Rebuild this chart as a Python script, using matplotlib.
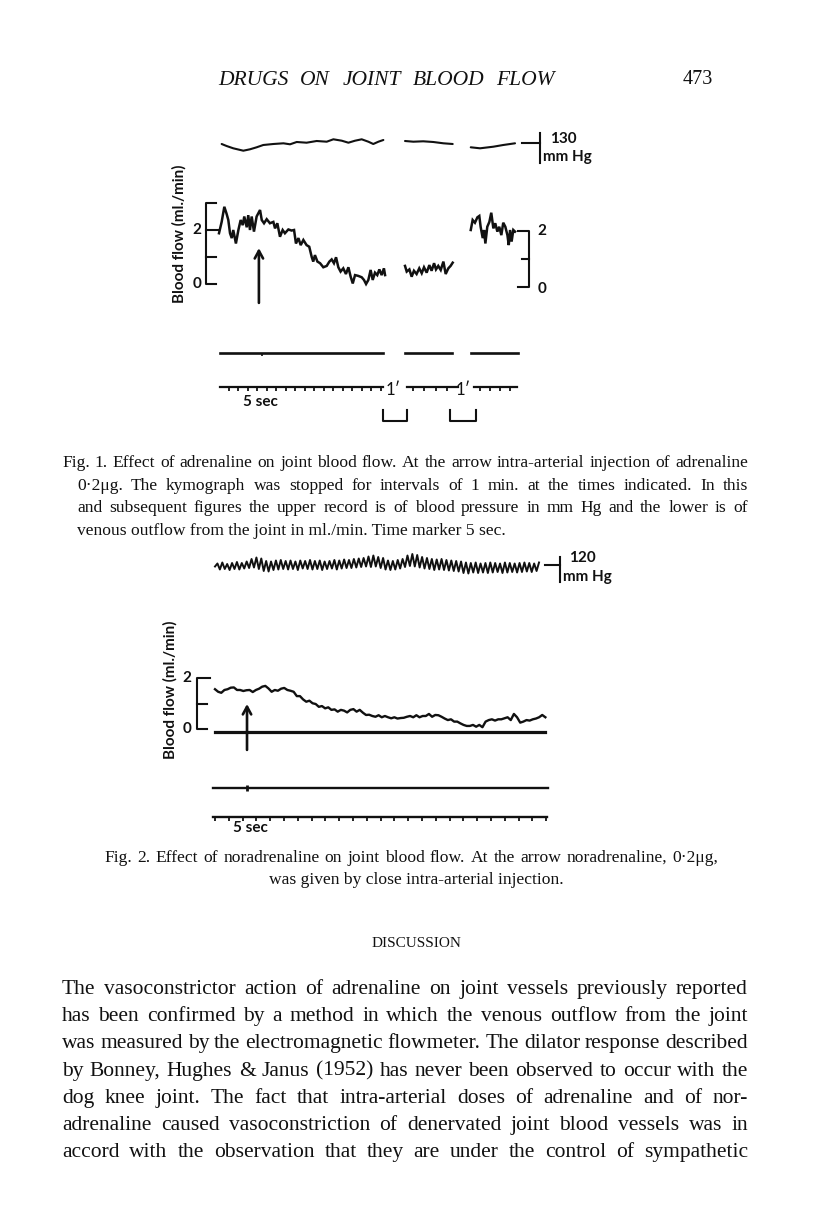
import numpy as np
import matplotlib
matplotlib.use('Agg')
import matplotlib.pyplot as plt

W, H = 816, 1208
INK = '#111111'
SERIF = ['Liberation Serif', 'DejaVu Serif']
SANS = ['Lato', 'DejaVu Sans']

# ---------------- Fig. 1 (adrenaline) ----------------
# time in s along the kymograph record; drum stopped for 1 min between segments
f1_bp_t1 = [1.4, 4.0, 7.5, 12.8, 16.3, 19.8, 23.3, 28.6, 33.9, 37.4, 40.9, 46.1,
            51.4, 56.7, 60.2, 64.6, 68.1, 71.6, 75.1, 78.6, 81.2, 83.9, 86.5]
f1_bp_v1 = [129, 127, 124.7, 122.3, 123.7, 125.7, 128, 129, 129.7, 128.7, 131, 130.3,
            132, 131.3, 133.7, 132.3, 130.3, 132.3, 133.7, 131.3, 129, 131.3, 133]
f1_bp_t2 = [97.9, 102.3, 107.5, 112.8, 118.1, 123.0]
f1_bp_v2 = [132, 131.3, 131.7, 131, 129.7, 129]
f1_bp_t3 = [132.5, 137.4, 144.4, 149.6, 155.8]
f1_bp_v3 = [125.7, 124.7, 126.3, 128, 129.7]

f1_flow_t1 = [0, 1.4, 2.8, 4.0, 4.9, 5.8, 6.7, 7.5, 8.9, 10.2, 11.4, 12.5, 13.3, 14.6,
              15.4, 16.3, 17.2, 18.4, 19.8, 21.6, 22.5, 23.7, 25.1, 26.8, 28.6, 29.5,
              30.7, 32.1, 33.5, 34.7, 36.5, 38.2, 39.5, 40.5, 41.8, 43.0, 44.4, 46.1,
              47.5, 48.8, 49.6, 50.5, 51.8, 53.2, 54.9, 56.7, 58.1, 59.3, 60.5, 61.6,
              62.8, 64.0, 65.4, 66.8, 68.1, 69.3, 70.4, 71.6, 73.3, 75.1, 76.3, 77.4,
              78.6, 79.8, 80.9, 82.1, 83.3, 84.4, 85.6, 86.8, 87.4]
f1_flow_v1 = [1.88, 2.3, 2.86, 2.6, 2.37, 1.88, 1.7, 2.0, 1.5, 2.0, 2.37, 2.18, 2.5, 2.1,
              2.55, 2.0, 2.5, 1.94, 2.5, 2.74, 2.37, 2.25, 2.4, 2.25, 2.3, 2.06,
              2.25, 1.75, 2.0, 1.88, 2.02, 1.98, 2.0, 1.5, 1.7, 1.44, 1.63, 1.44,
              1.38, 1.0, 0.83, 1.07, 0.83, 0.77, 0.62, 0.67, 0.83, 0.91, 0.77, 0.99,
              0.62, 0.46, 0.58, 0.37, 0.62, 0.27, 0.02, 0.33, 0.3, 0.25, 0.15, 0.0,
              0.15, 0.52, 0.15, 0.42, 0.33, 0.54, 0.33, 0.58, 0.33]
f1_flow_t2 = [97.9, 98.8, 100.2, 101.4, 102.6, 104.0, 105.4, 106.7, 107.9, 109.3, 110.7,
              111.9, 113.2, 114.2, 115.4, 116.7, 118.1, 119.3, 120.7, 121.9, 123.0]
f1_flow_v2 = [0.67, 0.46, 0.54, 0.27, 0.49, 0.37, 0.58, 0.4, 0.62, 0.42, 0.7,
              0.49, 0.77, 0.54, 0.67, 0.52, 0.83, 0.37, 0.58, 0.67, 0.79]
f1_flow_t3 = [132.5, 133.5, 134.7, 136.0, 137.0, 137.7, 138.8, 139.5, 140.2, 141.2,
              142.3, 143.3, 144.4, 145.4, 146.5, 147.5, 148.6, 149.6, 150.7, 151.8,
              152.5, 153.2, 154.0, 154.9, 155.8]
f1_flow_v3 = [2.0, 2.37, 2.27, 2.47, 2.52, 2.12, 1.7, 2.0, 1.5, 2.12,
              2.3, 2.64, 2.06, 2.25, 1.94, 2.12, 1.81, 2.27, 2.12, 1.81,
              1.44, 2.0, 1.57, 2.0, 1.94]

f1_injection = 21.0
f1_event_segments = [(0.5, 86.3), (97.9, 122.6), (132.6, 157.4)]
f1_time_segments = [(0.5, 86.3), (99.0, 125.8), (134.2, 156.8)]
f1_time_ticks = [5, 10, 15, 20, 25, 30, 35, 40, 45, 50, 55, 60, 65, 70, 75, 80, 85,
                 102, 108, 114, 120, 137.5, 142.5, 148, 153]
f1_stops = [(86.3, 98.9), (121.6, 135.3)]
f1_stop_labels = [91.6, 128.4]

# ---------------- Fig. 2 (noradrenaline) ----------------
# blood pressure pulse: successive troughs and peaks (mm Hg)
f2_bp_troughs = [118.5, 115.5, 116.0, 115.0, 116.0, 115.5, 116.5,
                 117.0, 117.5, 116.0, 114.0, 113.5, 115.0, 115.5,
                 116.0, 115.5, 116.0, 115.0, 116.5, 116.0, 115.5, 116.0, 115.0, 116.0,
                 116.5, 115.5, 116.5, 117.0, 117.0, 117.5, 118.0,
                 118.5, 118.0, 118.5, 117.0,
                 115.5, 115.0, 115.5, 116.5,
                 118.0, 119.0, 118.5, 117.5,
                 116.5, 116.0, 115.0, 115.5, 115.0, 114.5, 114.0, 113.5,
                 112.0, 111.5, 112.5, 112.0, 112.5, 112.0, 112.5, 113.0, 112.0, 112.5,
                 113.0, 112.5, 113.0, 113.5, 113.0, 114.0]
f2_bp_peaks = [121.5, 122.5, 121.0, 122.0, 123.0, 122.0, 123.5,
               126.0, 127.5, 126.5, 124.0, 123.5, 124.5, 125.0,
               124.0, 124.5, 123.5, 124.5, 124.0, 125.0, 124.0, 124.5, 123.5, 124.0,
               125.0, 124.5, 125.5, 125.0, 126.0, 126.5, 127.0,
               128.5, 129.5, 128.0, 127.0,
               124.5, 124.0, 125.0, 126.0,
               129.5, 131.0, 130.0, 128.0,
               127.0, 126.0, 125.5, 126.0, 125.0, 124.5, 124.0, 123.5,
               122.5, 122.0, 122.5, 121.5, 122.0, 122.5, 122.0, 121.5, 122.5, 122.0,
               121.5, 122.0, 122.5, 122.0, 121.5, 122.5]
f2_bp_span = (0.0, 117.4)

f2_flow_dt = 1.14
f2_flow = [1.56, 1.46, 1.42, 1.53, 1.56, 1.62, 1.63, 1.53, 1.53, 1.49,
           1.52, 1.53, 1.45, 1.53, 1.58, 1.66, 1.69, 1.59, 1.46, 1.53,
           1.50, 1.58, 1.61, 1.53, 1.50, 1.46, 1.29, 1.29, 1.16, 1.07,
           1.11, 1.01, 0.98, 0.87, 0.90, 0.81, 0.85, 0.75, 0.77, 0.68,
           0.75, 0.72, 0.65, 0.75, 0.78, 0.68, 0.75, 0.64, 0.55, 0.56,
           0.51, 0.48, 0.54, 0.46, 0.51, 0.46, 0.42, 0.46, 0.41, 0.43,
           0.44, 0.48, 0.51, 0.46, 0.54, 0.46, 0.51, 0.51, 0.59, 0.48,
           0.55, 0.54, 0.48, 0.41, 0.35, 0.38, 0.29, 0.29, 0.22, 0.16,
           0.12, 0.12, 0.16, 0.09, 0.16, 0.07, 0.29, 0.35, 0.38, 0.33,
           0.38, 0.38, 0.42, 0.46, 0.35, 0.59, 0.46, 0.25, 0.29, 0.35,
           0.33, 0.38, 0.41, 0.46, 0.55, 0.46]
f2_injection = 11.6
f2_event_segment = (-0.7, 120.7)
f2_time_segment = (-0.7, 120.3)
f2_time_ticks = list(range(0, 121, 5))

# ---------------- page text ----------------
header = 'DRUGS ON JOINT BLOOD FLOW'
page_no = '473'
caption1 = ['Fig. 1.  Effect of adrenaline on joint blood flow.  At the arrow intra-arterial injection of adrenaline',
            '0·2μg. The kymograph was stopped for intervals of 1 min. at the times indicated.  In this',
            'and subsequent figures the upper record is of blood pressure in mm Hg and the lower is of',
            'venous outflow from the joint in ml./min. Time marker 5 sec.']
caption2 = ['Fig. 2.  Effect of noradrenaline on joint blood flow.  At the arrow noradrenaline, 0·2μg,',
            'was given by close intra-arterial injection.']
section = 'DISCUSSION'
body = ['The vasoconstrictor action of adrenaline on joint vessels previously reported',
        'has been confirmed by a method in which the venous outflow from the joint',
        'was measured by the electromagnetic flowmeter. The dilator response described',
        'by Bonney, Hughes & Janus (1952) has never been observed to occur with the',
        'dog knee joint. The fact that intra-arterial doses of adrenaline and of nor-',
        'adrenaline caused vasoconstriction of denervated joint blood vessels was in',
        'accord with the observation that they are under the control of sympathetic']

fig = plt.figure(figsize=(W / 100, H / 100), dpi=100)
fig.patch.set_facecolor('white')
renderer = fig.canvas.get_renderer()


def page_axes(x0, y0, x1, y1, t0_px, px_per_s, v_ref, v_ref_px, px_per_v):
    # axes placed on the page; data in seconds and physiological units
    ax = fig.add_axes([x0 / W, 1 - y1 / H, (x1 - x0) / W, (y1 - y0) / H])
    ax.set_xlim((x0 - t0_px) / px_per_s, (x1 - t0_px) / px_per_s)
    ax.set_ylim(v_ref + (v_ref_px - y1) / px_per_v, v_ref + (v_ref_px - y0) / px_per_v)
    ax.set_axis_off()
    ax.patch.set_alpha(0)
    return ax


def text_width(s, size, family, style='normal', weight='normal'):
    t = fig.text(0, 0, s, fontsize=size, family=family, style=style, weight=weight)
    w = t.get_window_extent(renderer=renderer).width
    t.remove()
    return w


def put_line(s, x0, x1, y, size, family, style='normal', justify=True, ha='left'):
    kw = dict(fontsize=size, family=family, style=style, color=INK, va='baseline')
    if not justify:
        fig.text(x0 / W, 1 - y / H, s, ha=ha, **kw)
        return
    words = s.split()
    widths = [text_width(w, size, family, style) for w in words]
    gap = (x1 - x0 - sum(widths)) / (len(words) - 1)
    x = x0
    for w, wd in zip(words, widths):
        fig.text(x / W, 1 - y / H, w, ha='left', **kw)
        x += wd + gap


lab = dict(family=SANS, weight='bold', color=INK)
LS = 11

# header
hsize = 14 * 312 / text_width(header, 14, SERIF, 'italic')
put_line(header, 218, 555, 85, hsize, SERIF, 'italic')
put_line(page_no, 683, 0, 84, 14.5, SERIF, justify=False)

# ---- Fig. 1 ----
ax = page_axes(150, 110, 620, 185, 219, 1.9, 130, 143, 1)
for t, v in [(f1_bp_t1, f1_bp_v1), (f1_bp_t2, f1_bp_v2), (f1_bp_t3, f1_bp_v3)]:
    ax.plot(t, v, color=INK, lw=1.5, solid_capstyle='round')
ax.plot([159.5, 169], [130, 130], color=INK, lw=1.5)
ax.plot([169, 169], [140, 110], color=INK, lw=1.5)
ax.text(174.2, 134, '130', fontsize=LS, va='center', ha='left', **lab)
ax.text(170.5, 116, 'mm Hg', fontsize=LS, va='center', ha='left', **lab)

ax = page_axes(150, 185, 620, 315, 219, 1.9, 0, 284, 27)
for t, v in [(f1_flow_t1, f1_flow_v1), (f1_flow_t2, f1_flow_v2), (f1_flow_t3, f1_flow_v3)]:
    ax.plot(t, v, color=INK, lw=1.8, solid_joinstyle='miter')
ax.plot([-1.5, -6.8, -6.8, -1.5], [3, 3, 0, 0], color=INK, lw=1.5)
ax.plot([-6.8, -0.3], [2, 2], color=INK, lw=1.5)
ax.plot([-6.8, -1.5], [1, 1], color=INK, lw=1.5)
ax.text(-11.6, 2, '2', fontsize=LS, ha='center', va='center', **lab)
ax.text(-11.6, 0, '0', fontsize=LS, ha='center', va='center', **lab)
ax.plot([157.4, 163.2, 163.2, 157.4], [1.96, 1.96, -0.11, -0.11], color=INK, lw=1.5)
ax.plot([159.5, 163.2], [0.93, 0.93], color=INK, lw=1.5)
ax.text(167.5, 1.96, '2', fontsize=LS, ha='left', va='center', **lab)
ax.text(167.5, -0.2, '0', fontsize=LS, ha='left', va='center', **lab)
ax.annotate('', xy=(f1_injection, 1.33), xytext=(f1_injection, -0.70),
            arrowprops=dict(arrowstyle='->,head_length=0.55,head_width=0.3',
                            color=INK, lw=1.9, shrinkA=0, shrinkB=0))
fig.text(179 / W, 1 - 234 / H, 'Blood flow (ml./min)', rotation=90, fontsize=LS,
         ha='center', va='center', **lab)

ax = page_axes(150, 335, 620, 430, 219, 1.9, 0, 353, -34)
for a, b in f1_event_segments:
    ax.plot([a, b], [0, 0], color=INK, lw=1.9)
ax.vlines(f1_injection + 1.6, 0, 0.09, color=INK, lw=1.2)
for a, b in f1_time_segments:
    ax.plot([a, b], [1, 1], color=INK, lw=1.6)
ax.vlines(f1_time_ticks, 1, 1.13, color=INK, lw=1.3)
for t in f1_stop_labels:
    ax.text(t, 1.08, '1\u2032', fontsize=12, ha='center', va='center',
            family=SANS, color=INK)
for a, b in f1_stops:
    ax.plot([a, a, b, b], [1.68, 2.0, 2.0, 1.68], color=INK, lw=1.5)
ax.text(21.6, 1.43, '5 sec', fontsize=LS, ha='center', va='center', **lab)

# ---- Fig. 2 ----
ax = page_axes(150, 535, 620, 600, 215, 2.76, 120, 565, 1)
bp2 = np.column_stack([f2_bp_troughs, f2_bp_peaks]).ravel()
ax.plot(np.linspace(f2_bp_span[0], f2_bp_span[1], len(bp2)), bp2, color=INK, lw=1.4)
ax.plot([119.6, 125], [120, 120], color=INK, lw=1.5)
ax.plot([125, 125], [128, 103], color=INK, lw=1.5)
ax.text(128.3, 127, '120', fontsize=LS, va='center', ha='left', **lab)
ax.text(126.0, 108, 'mm Hg', fontsize=LS, va='center', ha='left', **lab)

ax = page_axes(150, 655, 620, 765, 215, 2.76, 0, 729, 25.5)
ax.plot(np.arange(len(f2_flow)) * f2_flow_dt, f2_flow, color=INK, lw=1.7)
ax.plot([0, 119.6], [-0.12, -0.12], color=INK, lw=2.3)
ax.plot([-1.8, -6.5, -6.5, -2.9], [2, 2, 0, 0], color=INK, lw=1.5)
ax.plot([-6.5, -2.9], [1, 1], color=INK, lw=1.5)
ax.text(-10.1, 2, '2', fontsize=LS, ha='center', va='center', **lab)
ax.text(-10.1, 0, '0', fontsize=LS, ha='center', va='center', **lab)
ax.annotate('', xy=(f2_injection, 0.98), xytext=(f2_injection, -0.82),
            arrowprops=dict(arrowstyle='->,head_length=0.55,head_width=0.3',
                            color=INK, lw=1.9, shrinkA=0, shrinkB=0))
fig.text(170 / W, 1 - 690 / H, 'Blood flow (ml./min)', rotation=90, fontsize=LS,
         ha='center', va='center', **lab)

ax = page_axes(150, 775, 620, 840, 215, 2.76, 0, 788, -29)
ax.plot(f2_event_segment, [0, 0], color=INK, lw=1.7)
ax.vlines(f2_injection, -0.12, 0.12, color=INK, lw=2.0)
ax.plot(f2_time_segment, [1, 1], color=INK, lw=1.7)
ax.vlines(f2_time_ticks, 1, 1.15, color=INK, lw=1.3)
ax.text(12.7, 1.38, '5 sec', fontsize=LS, ha='center', va='center', **lab)

# ---- captions and text ----
csize = min(10 * 686 / text_width(caption1[0], 10, SERIF),
            10 * 671 / text_width(caption1[1], 10, SERIF),
            10 * 671 / text_width(caption1[2], 10, SERIF))
put_line(caption1[0], 62, 748, 467, csize, SERIF)
put_line(caption1[1], 77, 748, 490, csize, SERIF)
put_line(caption1[2], 77, 748, 512.5, csize, SERIF)
put_line(caption1[3], 77, 0, 535, csize, SERIF, justify=False)

put_line(caption2[0], 104, 718, 862, csize, SERIF)
put_line(caption2[1], 416, 0, 884, csize, SERIF, justify=False, ha='center')

ssize = 10 * 90 / text_width(section, 10, SERIF)
put_line(section, 416, 0, 947, ssize, SERIF, justify=False, ha='center')

bsize = 10 * 686 / max(text_width(l, 10, SERIF) for l in body)
for i, line in enumerate(body):
    put_line(line, 62, 748, 994 + 27.2 * i, bsize, SERIF)

fig.savefig('out.png', dpi=100, facecolor='white')
